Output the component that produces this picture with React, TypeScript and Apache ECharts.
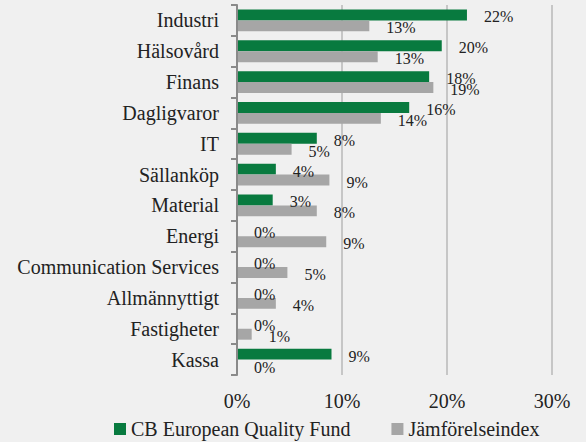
import React, { useEffect, useRef } from "react";
import * as echarts from "echarts";

const categories = [
  "Industri",
  "Hälsovård",
  "Finans",
  "Dagligvaror",
  "IT",
  "Sällanköp",
  "Material",
  "Energi",
  "Communication Services",
  "Allmännyttigt",
  "Fastigheter",
  "Kassa",
];
const fundValues = [21.9, 19.5, 18.3, 16.4, 7.6, 3.7, 3.4, 0, 0, 0, 0, 9.0];
const indexValues = [12.6, 13.4, 18.7, 13.7, 5.2, 8.8, 7.6, 8.5, 4.8, 3.7, 1.4, 0];
const xTicks = [0, 10, 20, 30];
const seriesNames = ["CB European Quality Fund", "Jämförelseindex"];

const FONT = "'Liberation Serif', 'DejaVu Serif', serif";

export default function App() {
  const ref = useRef<HTMLDivElement>(null);
  useEffect(() => {
    document.body.style.margin = "0";
    document.body.style.background = "#f0f0f0";
    const chart = echarts.init(ref.current!, null, { renderer: "svg" });
    const labelCfg = {
      show: true,
      position: "right" as const,
      distance: 17,
      offset: [0, 2],
      fontFamily: FONT,
      fontSize: 16,
      color: "#222",
      formatter: (p: any) => Math.round(p.value) + "%",
    };
    chart.setOption({
      animation: false,
      backgroundColor: "#f0f0f0",
      textStyle: { fontFamily: FONT },
      grid: { left: 237, right: 34, top: 5, bottom: 67, containLabel: false },
      xAxis: {
        type: "value",
        min: xTicks[0],
        max: xTicks[xTicks.length - 1],
        interval: 10,
        axisLine: { show: false },
        axisTick: { show: false },
        axisLabel: {
          formatter: "{value}%",
          fontFamily: FONT,
          fontSize: 20,
          color: "#222",
          margin: 16,
        },
        splitLine: { show: true, lineStyle: { color: "#c6c6c6", width: 2 } },
      },
      yAxis: {
        type: "category",
        data: categories,
        inverse: true,
        z: 5,
        axisLine: { show: true, lineStyle: { color: "#8a8a8a", width: 2 } },
        axisTick: { show: true, length: 6, lineStyle: { color: "#8a8a8a", width: 2 } },
        axisLabel: {
          fontFamily: FONT,
          fontSize: 20,
          color: "#222",
          margin: 18,
        },
      },
      legend: {
        left: 109,
        top: 414,
        itemWidth: 12,
        itemHeight: 12,
        itemGap: 41,
        icon: "rect",
        textStyle: { fontFamily: FONT, fontSize: 20, color: "#222" },
        data: seriesNames,
      },
      series: [
        {
          name: seriesNames[0],
          type: "bar",
          data: fundValues,
          barGap: "0%",
          barCategoryGap: "29%",
          itemStyle: { color: "#087a3f" },
          label: labelCfg,
        },
        {
          name: seriesNames[1],
          type: "bar",
          data: indexValues,
          itemStyle: { color: "#a6a6a6" },
          label: labelCfg,
        },
      ],
    });
    return () => chart.dispose();
  }, []);
  return <div ref={ref} style={{ width: 586, height: 442 }} />;
}
